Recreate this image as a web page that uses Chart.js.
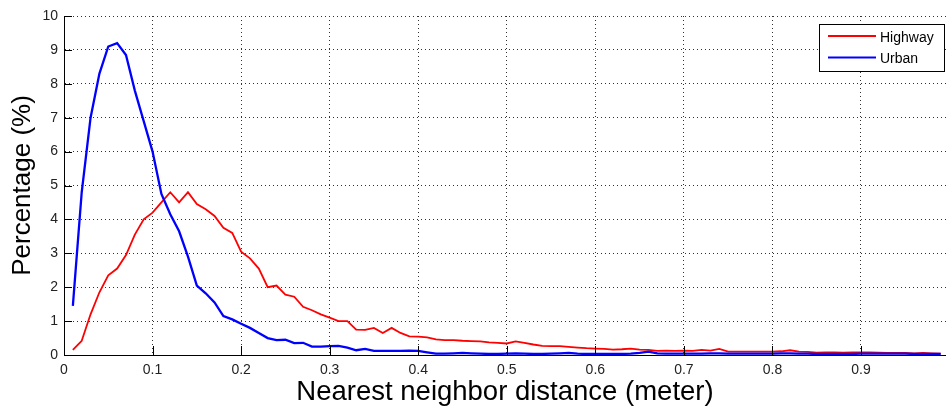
<!DOCTYPE html>
<html>
<head>
<meta charset="utf-8">
<script src="https://cdn.jsdelivr.net/npm/chart.js@4/dist/chart.umd.min.js"></script>
<style>
  html, body { margin: 0; padding: 0; background: #fff; overflow: hidden; }
  #wrap { width: 946px; height: 407px; }
</style>
</head>
<body>
<div id="wrap"><canvas id="c" width="946" height="407"></canvas></div>
<script>
// Nearest neighbor distance bins (meter)
const distances = [
  0.01, 0.02, 0.03, 0.04, 0.05, 0.06, 0.07, 0.08, 0.09, 0.10,
  0.11, 0.12, 0.13, 0.14, 0.15, 0.16, 0.17, 0.18, 0.19, 0.20,
  0.21, 0.22, 0.23, 0.24, 0.25, 0.26, 0.27, 0.28, 0.29, 0.30,
  0.31, 0.32, 0.33, 0.34, 0.35, 0.36, 0.37, 0.38, 0.39, 0.40,
  0.41, 0.42, 0.43, 0.44, 0.45, 0.46, 0.47, 0.48, 0.49, 0.50,
  0.51, 0.52, 0.53, 0.54, 0.55, 0.56, 0.57, 0.58, 0.59, 0.60,
  0.61, 0.62, 0.63, 0.64, 0.65, 0.66, 0.67, 0.68, 0.69, 0.70,
  0.71, 0.72, 0.73, 0.74, 0.75, 0.76, 0.77, 0.78, 0.79, 0.80,
  0.81, 0.82, 0.83, 0.84, 0.85, 0.86, 0.87, 0.88, 0.89, 0.90,
  0.91, 0.92, 0.93, 0.94, 0.95, 0.96, 0.97, 0.98, 0.99
];

// Percentage of points per bin, highway scenes
const highway = [
  0.15, 0.42, 1.20, 1.85, 2.35, 2.55, 2.95, 3.55, 4.00, 4.20,
  4.50, 4.80, 4.50, 4.80, 4.45, 4.30, 4.10, 3.75, 3.60, 3.05,
  2.85, 2.55, 2.00, 2.05, 1.78, 1.72, 1.42, 1.32, 1.20, 1.10,
  1.00, 1.00, 0.75, 0.74, 0.80, 0.65, 0.80, 0.65, 0.55, 0.54,
  0.52, 0.46, 0.44, 0.44, 0.42, 0.41, 0.40, 0.37, 0.36, 0.34,
  0.40, 0.36, 0.31, 0.27, 0.26, 0.26, 0.24, 0.22, 0.20, 0.19,
  0.18, 0.16, 0.17, 0.19, 0.16, 0.15, 0.12, 0.13, 0.12, 0.13,
  0.12, 0.15, 0.13, 0.18, 0.10, 0.10, 0.10, 0.10, 0.10, 0.10,
  0.11, 0.14, 0.10, 0.09, 0.07, 0.08, 0.08, 0.07, 0.08, 0.08,
  0.08, 0.07, 0.06, 0.06, 0.06, 0.05, 0.06, 0.05, 0.04
];

// Percentage of points per bin, urban scenes
const urban = [
  1.45, 4.80, 7.00, 8.30, 9.10, 9.20, 8.85, 7.80, 6.90, 6.00,
  4.75, 4.15, 3.65, 2.90, 2.05, 1.82, 1.55, 1.15, 1.05, 0.92,
  0.80, 0.65, 0.50, 0.44, 0.45, 0.35, 0.36, 0.25, 0.25, 0.26,
  0.27, 0.22, 0.14, 0.18, 0.12, 0.12, 0.12, 0.12, 0.13, 0.12,
  0.08, 0.04, 0.04, 0.05, 0.06, 0.05, 0.04, 0.03, 0.03, 0.04,
  0.05, 0.04, 0.03, 0.03, 0.04, 0.05, 0.06, 0.04, 0.03, 0.03,
  0.03, 0.03, 0.03, 0.04, 0.06, 0.10, 0.05, 0.04, 0.04, 0.04,
  0.04, 0.04, 0.05, 0.05, 0.04, 0.04, 0.04, 0.04, 0.04, 0.04,
  0.05, 0.05, 0.04, 0.04, 0.03, 0.03, 0.03, 0.03, 0.03, 0.04,
  0.04, 0.04, 0.04, 0.04, 0.04, 0.03, 0.03, 0.03, 0.03
];

const seriesLabels = ['Highway', 'Urban'];
const xTickValues = [0, 0.1, 0.2, 0.3, 0.4, 0.5, 0.6, 0.7, 0.8, 0.9];
const yTickValues = [0, 1, 2, 3, 4, 5, 6, 7, 8, 9, 10];

const FONT = '"Liberation Sans", Arial, Helvetica, sans-serif';

function pairs(xs, ys) {
  return xs.map((x, i) => ({ x: x, y: ys[i] }));
}

// Inward-pointing tick marks on the left and bottom axes
const innerTicks = {
  id: 'innerTicks',
  afterDatasetsDraw(chart) {
    const { ctx, chartArea, scales } = chart;
    ctx.save();
    ctx.strokeStyle = '#000';
    ctx.lineWidth = 1;
    ctx.beginPath();
    scales.x.ticks.forEach(t => {
      const px = Math.round(scales.x.getPixelForValue(t.value)) + 0.5;
      ctx.moveTo(px, chartArea.bottom);
      ctx.lineTo(px, chartArea.bottom - 9);
    });
    scales.y.ticks.forEach(t => {
      const py = Math.round(scales.y.getPixelForValue(t.value)) + 0.5;
      ctx.moveTo(chartArea.left, py);
      ctx.lineTo(chartArea.left + 8, py);
    });
    ctx.stroke();
    ctx.restore();
  }
};

// Boxed legend in the upper right corner of the plot
const boxLegend = {
  id: 'boxLegend',
  afterDraw(chart) {
    const { ctx } = chart;
    const box = { x: 819.5, y: 24.5, w: 125, h: 47 };
    ctx.save();
    ctx.fillStyle = '#fff';
    ctx.fillRect(box.x, box.y, box.w, box.h);
    ctx.strokeStyle = '#000';
    ctx.lineWidth = 1;
    ctx.strokeRect(box.x, box.y, box.w, box.h);
    ctx.font = '14px ' + FONT;
    ctx.textBaseline = 'middle';
    ctx.textAlign = 'left';
    const rows = [36, 57.5];
    chart.data.datasets.forEach((ds, i) => {
      const y = rows[i];
      ctx.strokeStyle = ds.borderColor;
      ctx.lineWidth = 2;
      ctx.beginPath();
      ctx.moveTo(828, y);
      ctx.lineTo(876, y);
      ctx.stroke();
      ctx.fillStyle = '#000';
      ctx.fillText(ds.label, 880, y + 2);
    });
    ctx.restore();
  }
};

new Chart(document.getElementById('c'), {
  type: 'line',
  data: {
    datasets: [
      {
        label: seriesLabels[0],
        data: pairs(distances, highway),
        borderColor: '#ff0000',
        borderWidth: 1.8,
        pointRadius: 0,
        tension: 0,
        fill: false,
        order: 1
      },
      {
        label: seriesLabels[1],
        data: pairs(distances, urban),
        borderColor: '#0000ff',
        borderWidth: 2.3,
        pointRadius: 0,
        tension: 0,
        fill: false,
        order: 0
      }
    ]
  },
  options: {
    responsive: false,
    animation: false,
    devicePixelRatio: 1,
    layout: { padding: { left: 0, right: 0, top: 16, bottom: 0 } },
    plugins: {
      legend: { display: false },
      tooltip: { enabled: false }
    },
    scales: {
      x: {
        type: 'linear',
        min: 0,
        max: 0.996,
        afterBuildTicks: s => { s.ticks = xTickValues.map(v => ({ value: v })); },
        afterFit: s => { s.height = 52; },
        ticks: {
          font: { family: FONT, size: 14 },
          color: '#222',
          padding: 7,
          maxRotation: 0,
          autoSkip: false,
          callback: v => String(Math.round(v * 10) / 10)
        },
        grid: { color: '#333', lineWidth: 1, drawTicks: false },
        border: { display: true, color: '#000', width: 1, dash: [1, 3] },
        title: {
          display: true,
          text: 'Nearest neighbor distance (meter)',
          color: '#000',
          font: { family: FONT, size: 27.5, lineHeight: 1 },
          padding: { top: 0, bottom: 1 }
        }
      },
      y: {
        type: 'linear',
        min: 0,
        max: 10,
        afterBuildTicks: s => { s.ticks = yTickValues.map(v => ({ value: v })); },
        afterFit: s => { s.width = 64; },
        ticks: {
          font: { family: FONT, size: 14 },
          color: '#222',
          padding: 6,
          autoSkip: false
        },
        grid: { color: '#333', lineWidth: 1, drawTicks: false },
        border: { display: true, color: '#000', width: 1, dash: [1, 3] },
        title: {
          display: true,
          text: 'Percentage (%)',
          color: '#000',
          font: { family: FONT, size: 26, lineHeight: 1 },
          padding: { top: 10, bottom: 0 }
        }
      }
    }
  },
  plugins: [innerTicks, boxLegend]
});
</script>
</body>
</html>
